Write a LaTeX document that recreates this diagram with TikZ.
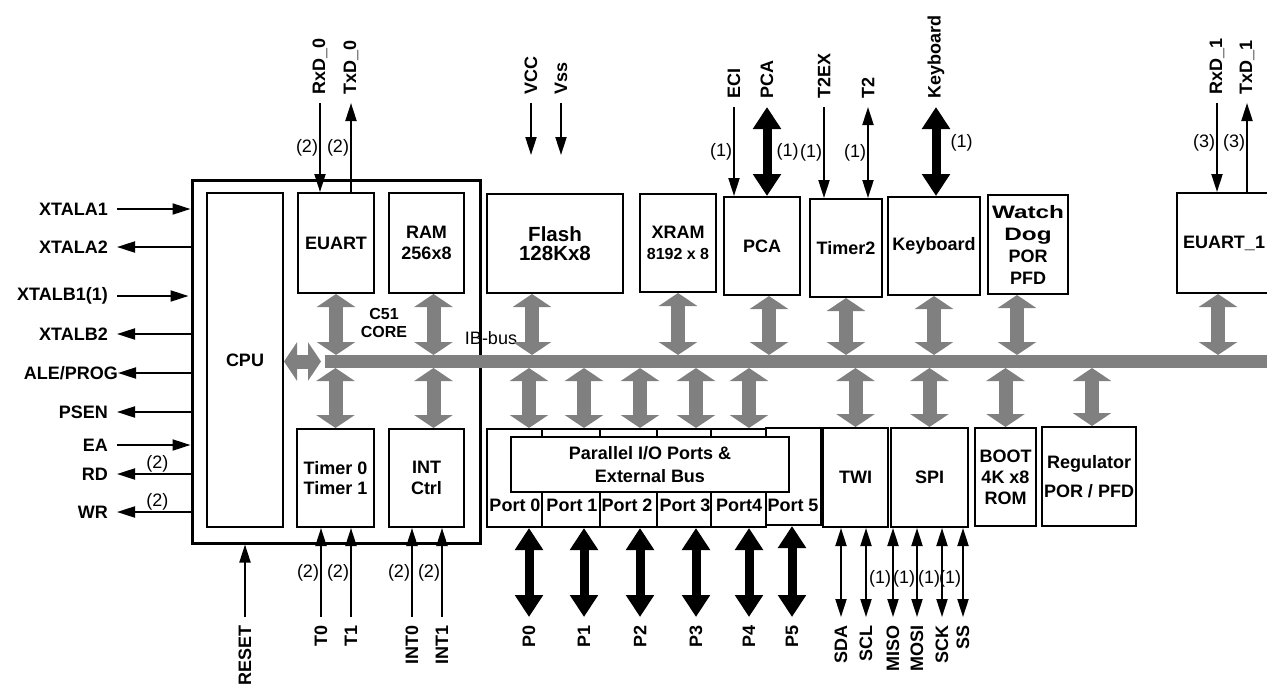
\documentclass[tikz,border=0pt]{standalone}
\usepackage{fontspec}
\setmainfont{Liberation Sans}
\usepackage{graphicx}
\usetikzlibrary{arrows.meta}
\definecolor{busgray}{HTML}{808080}
\newcommand{\sigfont}{\fontsize{18}{21}\selectfont\bfseries}
\newcommand{\notefont}{\fontsize{18}{20}\selectfont}
\newcommand{\corefont}{\fontsize{16}{18}\selectfont\bfseries}
\newcommand{\flashfont}{\fontsize{20.5}{19}\selectfont\bfseries}
\newcommand{\wdfont}{\fontsize{18}{22}\selectfont\bfseries}
\tikzset{
  blk/.style={rectangle, draw=black, line width=2pt, fill=white, inner sep=0pt, align=center, font=\sigfont},
  corebox/.style={rectangle, draw=black, line width=3pt, inner sep=0pt},
  pinl/.style={font=\sigfont, anchor=east, inner xsep=9pt, inner ysep=0pt},
  pint/.style={font=\sigfont, rotate=90, anchor=west, inner xsep=8pt, inner ysep=0pt},
  pinb/.style={font=\sigfont, rotate=90, anchor=east, inner xsep=8pt, inner ysep=0pt},
  note/.style={font=\notefont, inner sep=1pt},
  sigarr/.style={line width=2pt, -{Triangle[length=18pt,width=11pt]}},
  sigdbl/.style={line width=2pt, {Triangle[length=18pt,width=11pt]}-{Triangle[length=18pt,width=11pt]}},
  fatarr/.style={line width=9pt, {Triangle[length=22pt,width=27pt]}-{Triangle[length=22pt,width=27pt]}},
  busarr/.style={line width=14pt, draw=busgray, {Triangle[length=13pt,width=38pt]}-{Triangle[length=13pt,width=38pt]}},
  bus/.style={line width=13pt, draw=busgray}
}
\begin{document}
\begin{tikzpicture}[x=1pt, y=-1pt]
  \useasboundingbox (0,0) rectangle (1267,686);

  % === C51 core ===
  \node (c51) [corebox, minimum width=288pt, minimum height=363pt] at (336,361.5) {};
  \node (cpu) [blk, minimum width=76pt, minimum height=334pt] at (245,360) {CPU};
  \node (euart) [blk, minimum width=76pt, minimum height=100pt] at (336,243) {EUART};
  \node (ram) [blk, minimum width=75pt, minimum height=100pt] at (426.5,243) {RAM\\256x8};
  \node (tmr) [blk, minimum width=77pt, minimum height=98pt] at (335.5,478) {Timer 0\\[-1pt]Timer 1};
  \node (intc) [blk, minimum width=75pt, minimum height=98pt] at (426.5,478) {INT\\Ctrl};
  \node (c51lbl) [font=\corefont, align=center] at (384,323) {C51\\CORE};

  % === upper peripherals ===
  \node (flash) [blk, minimum width=136pt, minimum height=99pt, font=\flashfont] at (555,243.5) {Flash\\128Kx8};
  \node (xram) [blk, minimum width=76pt, minimum height=98pt] at (678,243) {XRAM\\{\fontsize{16}{18}\selectfont 8192 x 8}};
  \node (pca) [blk, minimum width=76pt, minimum height=98pt] at (762,246) {PCA};
  \node (timer2) [blk, minimum width=72pt, minimum height=98pt] at (846,248) {Timer2};
  \node (kbd) [blk, minimum width=92pt, minimum height=98pt] at (934,246) {Keyboard};
  \node (wdog) [blk, minimum width=80pt, minimum height=99pt, font=\wdfont] at (1028,244.5) {\scalebox{1.35}[1]{Watch}\\\scalebox{1.35}[1]{Dog}\\POR\\PFD};
  \node (euart1) [blk, minimum width=94pt, minimum height=100pt] at (1224,243) {EUART\_1};

  % === lower peripherals ===
  \node (port0) [blk, minimum width=55pt, minimum height=98pt] at (514.5,478) {};
  \node (port1) [blk, minimum width=58pt, minimum height=98pt] at (571,478) {};
  \node (port2) [blk, minimum width=57pt, minimum height=98pt] at (628.5,478) {};
  \node (port3) [blk, minimum width=54pt, minimum height=98pt] at (684,478) {};
  \node (port4) [blk, minimum width=55pt, minimum height=98pt] at (738.5,478) {};
  \node (port5) [blk, minimum width=55pt, minimum height=97pt] at (793.5,476.5) {};
  \node (pio) [blk, minimum width=278pt, minimum height=55pt, font=\fontsize{18}{23}\selectfont\bfseries] at (650,464.5) {Parallel I/O Ports \&\\External Bus};
  \node (lp0) [font=\sigfont, inner sep=0pt] at (515,505) {Port 0};
  \node (lp1) [font=\sigfont, inner sep=0pt] at (572,505) {Port 1};
  \node (lp2) [font=\sigfont, inner sep=0pt] at (627,505) {Port 2};
  \node (lp3) [font=\sigfont, inner sep=0pt] at (685,505) {Port 3};
  \node (lp4) [font=\sigfont, inner sep=0pt] at (739,505) {Port4};
  \node (lp5) [font=\sigfont, inner sep=0pt] at (793,505) {Port 5};
  \node (twi) [blk, minimum width=65pt, minimum height=99pt] at (855.5,477.5) {TWI};
  \node (spi) [blk, minimum width=77pt, minimum height=99pt] at (929.5,477.5) {SPI};
  \node (boot) [blk, minimum width=61pt, minimum height=98pt] at (1005.5,477) {BOOT\\4K x8\\ROM};
  \node (reg) [blk, minimum width=94pt, minimum height=99pt] at (1089,476.5) {Regulator\\[8pt]POR / PFD};

  % === IB-bus ===
  \coordinate (busl) at (325,361.5);
  \coordinate (busr) at (1290,361.5);
  \coordinate (bust) at (0,355);
  \coordinate (busb) at (0,368);
  \coordinate (cpuarr) at (321,361.5);
  \draw [bus] (busl) -- (busr);
  \node (ibbus) [font=\notefont, inner sep=0pt] at (491,338) {IB-bus};
  \draw [busarr] (cpu.east |- busl) -- (cpuarr);

  \draw [busarr] (euart.south) -- (euart.south |- bust);
  \draw [busarr] ([xshift=7pt]ram.south) -- ([xshift=7pt]ram.south |- bust);
  \draw [busarr] ([xshift=-23pt]flash.south) -- ([xshift=-23pt]flash.south |- bust);
  \draw [busarr] (xram.south) -- (xram.south |- bust);
  \draw [busarr] ([xshift=7pt]pca.south) -- ([xshift=7pt]pca.south |- bust);
  \draw [busarr] (timer2.south) -- (timer2.south |- bust);
  \draw [busarr] (kbd.south) -- (kbd.south |- bust);
  \draw [busarr] ([xshift=-11pt]wdog.south) -- ([xshift=-11pt]wdog.south |- bust);
  \draw [busarr] ([xshift=-6pt]euart1.south) -- ([xshift=-6pt]euart1.south |- bust);

  \draw [busarr] (busb -| tmr.north) -- (tmr.north);
  \draw [busarr] ([xshift=7pt]busb -| intc.north) -- ([xshift=7pt]intc.north);
  \draw [busarr] (busb -| twi.north) -- (twi.north);
  \draw [busarr] (busb -| spi.north) -- (spi.north);
  \draw [busarr] (busb -| boot.north) -- (boot.north);
  \draw [busarr] ([xshift=3pt]busb -| reg.north) -- ([xshift=3pt]reg.north);

  % === left pins ===
  \node (xa1) [pinl] at (117,209) {XTALA1};
  \node (xa2) [pinl] at (117,247) {XTALA2};
  \node (xb1) [pinl] at (117,296) {XTALB1(1)};
  \node (xb2) [pinl] at (117,334) {XTALB2};
  \node (ale) [pinl, inner xsep=0pt] at (118,373) {ALE/PROG};
  \node (psen) [pinl] at (117,412) {PSEN};
  \node (ea) [pinl] at (117,445) {EA};
  \node (rd) [pinl] at (117,474) {RD};
  \node (wr) [pinl] at (117,512) {WR};

  \draw [sigarr] (xa1) -- (c51.west |- xa1);
  \draw [sigarr] (c51.west |- xa2) -- (xa2);
  \draw [sigarr] (xb1) -- ([xshift=-2pt]c51.west |- xb1);
  \draw [sigarr] (c51.west |- xb2) -- (xb2);
  \draw [sigarr] (c51.west |- ale) -- (ale);
  \draw [sigarr] (c51.west |- psen) -- (psen);
  \draw [sigarr] (ea) -- (c51.west |- ea);
  \draw [sigarr] (c51.west |- rd) -- node (nrd) [note, above, pos=0.45] {(2)} (rd);
  \draw [sigarr] (c51.west |- wr) -- node (nwr) [note, above, pos=0.45] {(2)} (wr);

  % === top pins ===
  \node (rxd0) [pint] at (320,103) {RxD\_0};
  \node (txd0) [pint] at (351,103) {TxD\_0};
  \node (vcc) [pint] at (531,103) {VCC};
  \node (vss) [pint] at (561,103) {Vss};
  \node (eci) [pint] at (734,107) {ECI};
  \node (pcal) [pint] at (767,107) {PCA};
  \node (t2ex) [pint] at (824,107) {T2EX};
  \node (t2l) [pint] at (868,107) {T2};
  \node (kbdl) [pint] at (936,107) {Keyboard};
  \node (rxd1) [pint] at (1217,103) {RxD\_1};
  \node (txd1) [pint] at (1247,103) {TxD\_1};
  \coordinate (vcce) at (531,155);
  \coordinate (vsse) at (561,155);

  \draw [sigarr] (rxd0) -- node (nrxd0) [note, left] {(2)} (euart.north -| rxd0);
  \draw [sigarr] (euart.north -| txd0) -- node (ntxd0) [note, left] {(2)} (txd0);
  \draw [sigarr] (vcc) -- (vcce);
  \draw [sigarr] (vss) -- (vsse);
  \draw [sigarr] (eci) -- node (neci) [note, left] {(1)} (pca.north -| eci);
  \draw [fatarr] (pcal) -- node (npca) [note, right, xshift=4pt] {(1)} (pca.north -| pcal);
  \draw [sigarr] (t2ex) -- node (nt2ex) [note, left] {(1)} (timer2.north -| t2ex);
  \draw [sigdbl] (t2l) -- node (nt2) [note, left] {(1)} (timer2.north -| t2l);
  \draw [fatarr] (kbdl) -- node (nkbd) [note, right, xshift=9pt, pos=0.4] {(1)} (kbd.north -| kbdl);
  \draw [sigarr] (rxd1) -- node (nrxd1) [note, left, pos=0.45] {(3)} (euart1.north -| rxd1);
  \draw [sigarr] (euart1.north -| txd1) -- node (ntxd1) [note, left, pos=0.55] {(3)} (txd1);

  % === bottom pins ===
  \node (reset) [pinb] at (245,617) {RESET};
  \node (t0l) [pinb] at (321,617) {T0};
  \node (t1l) [pinb] at (351,617) {T1};
  \node (int0l) [pinb] at (412,617) {INT0};
  \node (int1l) [pinb] at (442,617) {INT1};
  \node (p0l) [pinb] at (529,617) {P0};
  \node (p1l) [pinb] at (584,617) {P1};
  \node (p2l) [pinb] at (640,617) {P2};
  \node (p3l) [pinb] at (696,617) {P3};
  \node (p4l) [pinb] at (749,617) {P4};
  \node (p5l) [pinb] at (792,617) {P5};
  \node (sda) [pinb] at (841,617) {SDA};
  \node (scl) [pinb] at (866,617) {SCL};
  \node (miso) [pinb] at (893,617) {MISO};
  \node (mosi) [pinb] at (917,617) {MOSI};
  \node (sck) [pinb] at (942,617) {SCK};
  \node (ss) [pinb] at (963,617) {SS};

  \draw [sigarr] (reset) -- (c51.south -| reset);
  \draw [sigarr] (t0l) -- node (nt0) [note, left] {(2)} (tmr.south -| t0l);
  \draw [sigarr] (t1l) -- node (nt1) [note, left] {(2)} (tmr.south -| t1l);
  \draw [sigarr] (int0l) -- node (nint0) [note, left] {(2)} (intc.south -| int0l);
  \draw [sigarr] (int1l) -- node (nint1) [note, left] {(2)} (intc.south -| int1l);

  \draw [busarr] (busb -| p0l) -- (port0.north -| p0l);
  \draw [busarr] (busb -| p1l) -- (port1.north -| p1l);
  \draw [busarr] (busb -| p2l) -- (port2.north -| p2l);
  \draw [busarr] (busb -| p3l) -- (port3.north -| p3l);
  \draw [busarr] (busb -| p4l) -- (port4.north -| p4l);
  \draw [fatarr] (p0l) -- (port0.south -| p0l);
  \draw [fatarr] (p1l) -- (port1.south -| p1l);
  \draw [fatarr] (p2l) -- (port2.south -| p2l);
  \draw [fatarr] (p3l) -- (port3.south -| p3l);
  \draw [fatarr] (p4l) -- (port4.south -| p4l);
  \draw [fatarr] (p5l) -- (port5.south -| p5l);

  \draw [sigdbl] (sda) -- (twi.south -| sda);
  \draw [sigdbl] (scl) -- (twi.south -| scl);
  \draw [sigdbl] (miso) -- node (nmiso) [note, left, pos=0.43] {(1)} (spi.south -| miso);
  \draw [sigdbl] (mosi) -- node (nmosi) [note, left, pos=0.43] {(1)} (spi.south -| mosi);
  \draw [sigdbl] (sck) -- node (nsck) [note, left, pos=0.43] {(1)} (spi.south -| sck);
  \draw [sigdbl] (ss) -- node (nss) [note, left, pos=0.43] {(1)} (spi.south -| ss);
\end{tikzpicture}
\end{document}
